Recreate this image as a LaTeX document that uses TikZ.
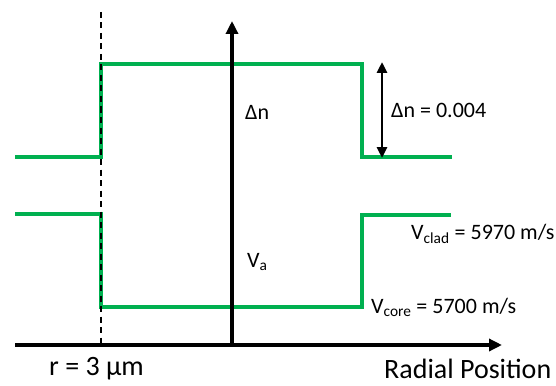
\documentclass[tikz,border=0pt]{standalone}
\usepackage{fontspec}
\setmainfont{Carlito}
\usetikzlibrary{arrows.meta}
\definecolor{pgreen}{RGB}{0,176,80}
\tikzset{
  profile/.style={draw=pgreen, line width=3.5pt},
  axis/.style={draw=black, line width=3.5pt, -{Triangle[length=13pt,width=12pt]}},
  guide/.style={draw=black, line width=1.1pt, dash pattern=on 6pt off 4.5pt},
  dbl/.style={draw=black, line width=2.8pt, {Triangle[length=11pt,width=10pt]}-{Triangle[length=11pt,width=10pt]}},
  lblsmall/.style={font=\fontsize{22}{24}\selectfont, inner sep=0pt},
  lblbig/.style={font=\fontsize{28}{30}\selectfont, inner sep=0pt},
}
\begin{document}
\begin{tikzpicture}[x=1pt,y=-1pt]
\useasboundingbox (0,0) rectangle (556,385);
% named points
\coordinate (vbot) at (232,346);
\coordinate (vtop) at (232,21);
\coordinate (hl) at (15,345);
\coordinate (hr) at (502,345);
\coordinate (dtop) at (101,12);
\coordinate (dbot) at (101,345);
\coordinate (a0) at (15,157);
\coordinate (a1) at (101,157);
\coordinate (a2) at (101,64);
\coordinate (a3) at (362,64);
\coordinate (a4) at (362,157);
\coordinate (a5) at (452,157);
\coordinate (b0) at (15,214);
\coordinate (b1) at (101,214);
\coordinate (b2) at (101,307);
\coordinate (b3) at (362,307);
\coordinate (b4) at (362,215);
\coordinate (b5) at (451,215);
\coordinate (dnt) at (382,62);
\coordinate (dnb) at (382,158);
% profiles
\draw[profile] (a0) -- (a1) -- (a2) -- (a3) -- (a4) -- (a5);
\draw[profile] (b0) -- (b1) -- (b2) -- (b3) -- (b4) -- (b5);
% dashed guide
\draw[guide] (dtop) -- (dbot);
% axes
\draw[axis] (vbot) -- (vtop);
\draw[axis] (hl) -- (hr);
% double arrow
\draw[dbl] (dnt) -- (dnb);
% labels
\node[lblsmall, anchor=west] (ldn) at (245,112) {Δn};
\node[lblsmall, anchor=west] (ldn2) at (391,110) {Δn = 0.004};
\node[lblsmall, anchor=west] (lva) at (247,262) {V\textsubscript{a}};
\node[lblsmall, anchor=west] (lclad) at (411,234) {V\textsubscript{clad} = 5970 m/s};
\node[lblsmall, anchor=west] (lcore) at (371,307) {V\textsubscript{core} = 5700 m/s};
\node[lblbig, anchor=west] (lr) at (49,369) {r = 3 μm};
\node[lblbig, anchor=west] (lrad) at (384,369) {Radial Position};
\end{tikzpicture}
\end{document}
